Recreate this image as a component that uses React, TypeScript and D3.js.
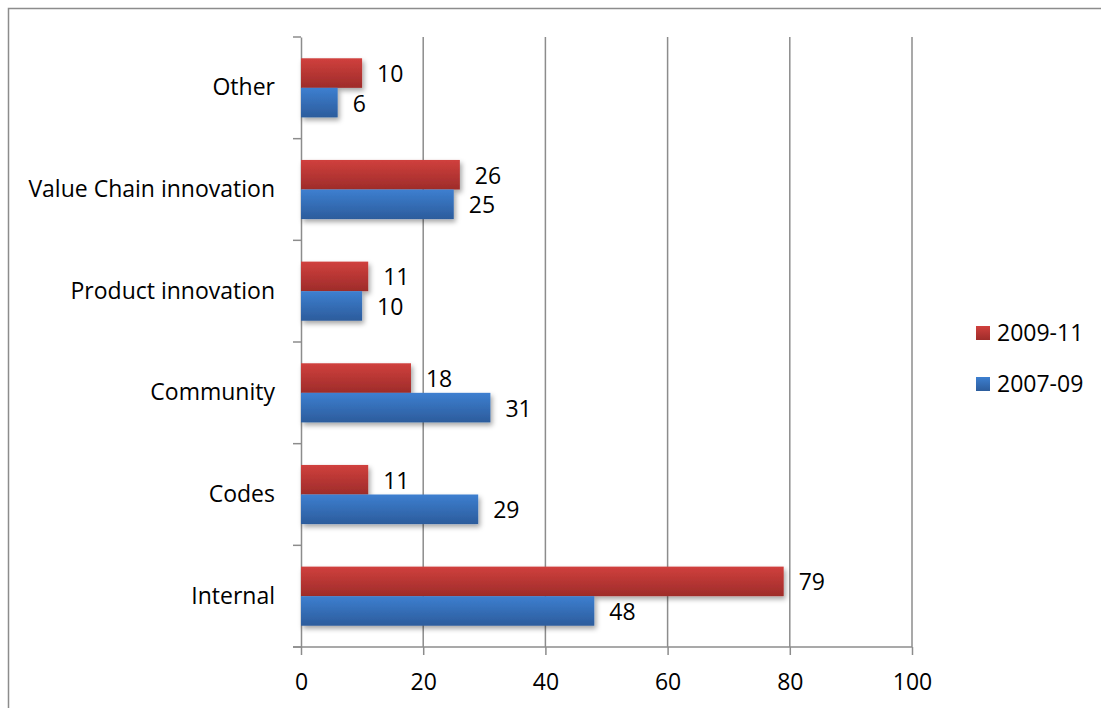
import { useEffect, useRef } from "react";
import * as d3 from "d3";

const categories = ["Other", "Value Chain innovation", "Product innovation", "Community", "Codes", "Internal"];
const series2009 = [10, 26, 11, 18, 11, 79];
const series2007 = [6, 25, 10, 31, 29, 48];
const seriesNames = ["2009-11", "2007-09"];
const xTicks = [0, 20, 40, 60, 80, 100];

const drawChart = (svgEl: SVGSVGElement) => {
  const width = 1101;
  const height = 708;
  const marginLeft = 301;
  const marginRight = 189;
  const marginTop = 37;
  const marginBottom = 61;
  const font = "'Open Sans', sans-serif";
  const fontSize = 23;

  const svg = d3.select(svgEl);
  svg.selectAll("*").remove();
  svg.attr("width", width).attr("height", height).attr("viewBox", [0, 0, width, height]);

  // gradients + shadow
  const defs = svg.append("defs");
  const grad = (id: string, top: string, bottom: string) => {
    const g = defs.append("linearGradient").attr("id", id)
      .attr("x1", "0%").attr("y1", "0%").attr("x2", "0%").attr("y2", "100%");
    g.append("stop").attr("offset", "0%").attr("stop-color", top);
    g.append("stop").attr("offset", "100%").attr("stop-color", bottom);
  };
  grad("redGrad", "#d0403d", "#9e2c2a");
  grad("blueGrad", "#3d7fd0", "#2c5c9c");
  const f = defs.append("filter").attr("id", "shadow")
    .attr("x", "-10%").attr("y", "-20%").attr("width", "130%").attr("height", "160%");
  f.append("feDropShadow").attr("dx", 2).attr("dy", 3).attr("stdDeviation", 2.5)
    .attr("flood-color", "#000").attr("flood-opacity", 0.35);

  // outer frame
  svg.append("rect")
    .attr("x", 8.5).attr("y", 8.5).attr("width", width + 20).attr("height", height + 20)
    .attr("fill", "none").attr("stroke", "#8c8c8c").attr("stroke-width", 1.5);

  const x = d3.scaleLinear().domain([0, 100]).range([marginLeft, width - marginRight]);
  const y = d3.scaleBand().domain(categories).range([marginTop, height - marginBottom]).paddingInner(0).paddingOuter(0);
  const inner = d3.scaleBand().domain(seriesNames).range([0, y.bandwidth()]).paddingInner(0).paddingOuter(0.72);

  // gridlines
  svg.append("g")
    .selectAll("line")
    .data(xTicks.slice(1))
    .join("line")
    .attr("x1", (d) => x(d)).attr("x2", (d) => x(d))
    .attr("y1", marginTop).attr("y2", height - marginBottom)
    .attr("stroke", "#8c8c8c").attr("stroke-width", 1.5);

  // y axis
  svg.append("g")
    .attr("transform", `translate(${marginLeft},0)`)
    .call(d3.axisLeft(y).tickSize(0).tickPadding(26))
    .call((g) => g.select(".domain").attr("stroke", "#8c8c8c").attr("stroke-width", 1.5))
    .call((g) => g.selectAll("text").attr("font-family", font).attr("font-size", fontSize).attr("fill", "#000"));

  // y band boundary ticks
  const bounds = categories.map((c) => y(c) as number).concat([height - marginBottom]);
  svg.append("g")
    .selectAll("line")
    .data(bounds)
    .join("line")
    .attr("x1", marginLeft - 8).attr("x2", marginLeft)
    .attr("y1", (d) => d).attr("y2", (d) => d)
    .attr("stroke", "#8c8c8c").attr("stroke-width", 1.5);

  // x axis
  svg.append("g")
    .attr("transform", `translate(0,${height - marginBottom})`)
    .call(d3.axisBottom(x).tickValues(xTicks).tickSize(8).tickPadding(19).tickSizeOuter(0))
    .call((g) => g.select(".domain").attr("stroke", "#8c8c8c").attr("stroke-width", 1.5)
      .attr("d", `M${marginLeft - 8},0H${width - marginRight}`))
    .call((g) => g.selectAll("line").attr("stroke", "#8c8c8c").attr("stroke-width", 1.5))
    .call((g) => g.selectAll("text").attr("font-family", font).attr("font-size", fontSize).attr("fill", "#000"));

  const rows = categories.map((c, i) => ({ c, vals: [series2009[i], series2007[i]] }));
  const fills = ["url(#redGrad)", "url(#blueGrad)"];

  // bars
  const groups = svg.append("g").selectAll("g")
    .data(rows).join("g")
    .attr("transform", (d) => `translate(0,${y(d.c)})`);
  groups.selectAll("rect")
    .data((d) => d.vals.map((v, j) => ({ v, j })))
    .join("rect")
    .attr("x", x(0))
    .attr("y", (d) => inner(seriesNames[d.j]) as number)
    .attr("width", (d) => x(d.v) - x(0))
    .attr("height", inner.bandwidth())
    .attr("fill", (d) => fills[d.j])
    .attr("filter", "url(#shadow)");
  groups.selectAll("text")
    .data((d) => d.vals.map((v, j) => ({ v, j })))
    .join("text")
    .attr("x", (d) => x(d.v) + 15)
    .attr("y", (d) => (inner(seriesNames[d.j]) as number) + inner.bandwidth() / 2 + 1)
    .attr("dy", "0.35em")
    .attr("font-family", font).attr("font-size", fontSize).attr("fill", "#000")
    .text((d) => d.v);

  // legend
  const legend = svg.append("g").attr("transform", "translate(976,326)");
  seriesNames.forEach((s, i) => {
    legend.append("rect").attr("x", 0).attr("y", i * 51).attr("width", 14).attr("height", 14).attr("fill", fills[i]);
    legend.append("text").attr("x", 21).attr("y", i * 51 + 7).attr("dy", "0.35em")
      .attr("font-family", font).attr("font-size", fontSize).attr("fill", "#000").text(s);
  });
};

export default function App() {
  const ref = useRef<SVGSVGElement>(null);
  useEffect(() => {
    if (ref.current) drawChart(ref.current);
  }, []);
  return (
    <svg ref={ref} style={{ position: "absolute", left: 0, top: 0, display: "block" }} />
  );
}
